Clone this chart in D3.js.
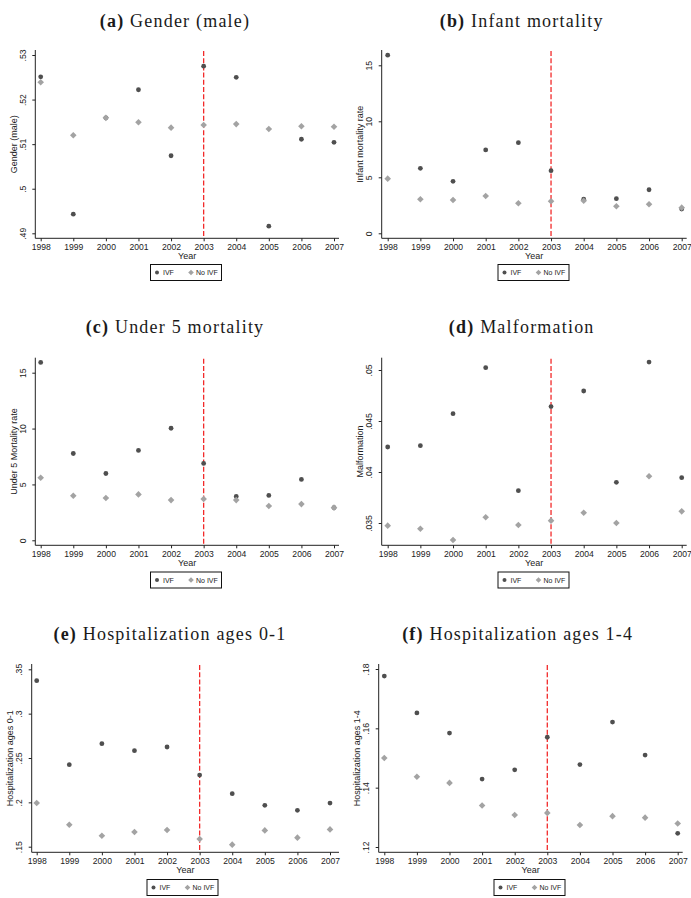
<!DOCTYPE html>
<html>
<head>
<meta charset="utf-8">
<script src="https://cdn.jsdelivr.net/npm/d3@7"></script>
<style>
  html, body { margin: 0; padding: 0; background: #fff; }
  svg { display: block; }
</style>
</head>
<body>
<svg id="chart" width="691" height="898"></svg>
<script>
// ---------------- DATA ----------------
const years = [1998, 1999, 2000, 2001, 2002, 2003, 2004, 2005, 2006, 2007];
const cutoffYear = 2003;
const seriesNames = ["IVF", "No IVF"];

const titlesLetter = ["(a)", "(b)", "(c)", "(d)", "(e)", "(f)"];
const titlesText = ["Gender (male)", "Infant mortality", "Under 5 mortality", "Malformation", "Hospitalization ages 0-1", "Hospitalization ages 1-4"];
const yAxisTitles = ["Gender (male)", "Infant mortality rate", "Under 5 Mortality rate", "Malformation", "Hospitalization ages 0-1", "Hospitalization ages 1-4"];

const genderIVF   = [0.5251, 0.4943, 0.5159, 0.5222, 0.5074, 0.5275, 0.5250, 0.4916, 0.5111, 0.5104];
const genderNoIVF = [0.5239, 0.5120, 0.5159, 0.5149, 0.5137, 0.5143, 0.5145, 0.5134, 0.5140, 0.5139];
const genderTicks = [0.49, 0.50, 0.51, 0.52, 0.53];

const infantIVF   = [15.90, 5.80, 4.64, 7.44, 8.09, 5.59, 3.04, 3.09, 3.89, 2.17];
const infantNoIVF = [4.88, 3.04, 2.97, 3.33, 2.68, 2.86, 2.90, 2.41, 2.59, 2.29];
const infantTicks = [0, 5, 10, 15];

const under5IVF   = [15.92, 7.77, 5.98, 8.04, 10.03, 6.88, 3.93, 4.02, 5.45, 2.92];
const under5NoIVF = [5.60, 3.99, 3.78, 4.11, 3.60, 3.69, 3.60, 3.07, 3.24, 2.92];
const under5Ticks = [0, 5, 10, 15];

const malfIVF   = [0.04245, 0.04258, 0.04572, 0.05023, 0.03817, 0.04641, 0.04794, 0.03899, 0.05078, 0.03944];
const malfNoIVF = [0.03474, 0.03444, 0.03333, 0.03556, 0.03480, 0.03523, 0.03601, 0.03500, 0.03958, 0.03614];
const malfTicks = [0.035, 0.04, 0.045, 0.05];

const hosp01IVF   = [0.3372, 0.2425, 0.2662, 0.2583, 0.2624, 0.2308, 0.2098, 0.1966, 0.1910, 0.1992];
const hosp01NoIVF = [0.1992, 0.1748, 0.1624, 0.1665, 0.1688, 0.1586, 0.1523, 0.1684, 0.1602, 0.1695];
const hosp01Ticks = [0.15, 0.2, 0.25, 0.3, 0.35];

const hosp14IVF   = [0.1776, 0.1652, 0.1584, 0.1429, 0.1460, 0.1570, 0.1478, 0.1621, 0.1510, 0.1246];
const hosp14NoIVF = [0.1500, 0.1437, 0.1416, 0.1340, 0.1308, 0.1315, 0.1274, 0.1304, 0.1299, 0.1279];
const hosp14Ticks = [0.12, 0.14, 0.16, 0.18];

// ---------------- LAYOUT (positions / styles) ----------------
const panelData = [
  { ivf: genderIVF, no: genderNoIVF, ticks: genderTicks },
  { ivf: infantIVF, no: infantNoIVF, ticks: infantTicks },
  { ivf: under5IVF, no: under5NoIVF, ticks: under5Ticks },
  { ivf: malfIVF,   no: malfNoIVF,   ticks: malfTicks },
  { ivf: hosp01IVF, no: hosp01NoIVF, ticks: hosp01Ticks },
  { ivf: hosp14IVF, no: hosp14NoIVF, ticks: hosp14Ticks }
];

const frames = [
  { L: 35.3,  T: 50,    R: 339,   B: 238.3, x0: 40.7,  x1: 334,   yLo: 233.3, yHi: 55,    titleX: 175,   titleY: 26.5, legX: 150.5, legY: 264.5 },
  { L: 381.7, T: 50,    R: 686.7, B: 238.3, x0: 387.7, x1: 681.7, yLo: 233.3, yHi: 65.3,  titleX: 521.7, titleY: 26.5, legX: 498,   legY: 264.5 },
  { L: 35.3,  T: 357.7, R: 339,   B: 545.3, x0: 40.7,  x1: 334,   yLo: 540.3, yHi: 372.7, titleX: 175,   titleY: 333,  legX: 150.5, legY: 572 },
  { L: 381.7, T: 357.7, R: 686.7, B: 545.3, x0: 387.7, x1: 681.7, yLo: 523,   yHi: 370,   titleX: 521.7, titleY: 333,  legX: 498,   legY: 572 },
  { L: 31.7,  T: 664,   R: 339,   B: 852.3, x0: 36.7,  x1: 330,   yLo: 846.7, yHi: 669.3, titleX: 170,   titleY: 640,  legX: 147,   legY: 879.5 },
  { L: 378.7, T: 664,   R: 682.7, B: 852.3, x0: 384.3, x1: 677.7, yLo: 847,   yHi: 669,   titleX: 517.7, titleY: 640,  legX: 494,   legY: 879.5 }
];

const darkCol = "#4f4f4f";
const lightCol = "#a3a3a3";
const redCol = "#f22a2a";
const sans = "'Liberation Sans', Arial, sans-serif";
const serif = "'Liberation Serif', 'DejaVu Serif', serif";

const svg = d3.select("#chart");
const fmt = v => {
  let s = d3.format("")(+v.toPrecision(6));
  return s.replace(/^0\./, ".").replace(/^-0\./, "-.");
};
const diamond = (r) => `M0,${-r}L${r},0L0,${r}L${-r},0Z`;

panelData.forEach((pd, i) => {
  const f = frames[i];
  const g = svg.append("g");

  const x = d3.scaleLinear().domain([years[0], years[years.length - 1]]).range([f.x0, f.x1]);
  const y = d3.scaleLinear().domain([d3.min(pd.ticks), d3.max(pd.ticks)]).range([f.yLo, f.yHi]);

  // Title
  const t = g.append("text")
    .attr("x", f.titleX).attr("y", f.titleY)
    .attr("text-anchor", "middle")
    .attr("font-family", serif).attr("font-size", 18).attr("fill", "#1a1a1a")
    .attr("letter-spacing", 1.2);
  t.append("tspan").attr("font-weight", "bold").text(titlesLetter[i]);
  t.append("tspan").text(" " + titlesText[i]);

  // Axis lines
  g.append("line").attr("x1", f.L).attr("x2", f.L).attr("y1", f.T).attr("y2", f.B)
    .attr("stroke", "#222").attr("stroke-width", 1);
  g.append("line").attr("x1", f.L).attr("x2", f.R).attr("y1", f.B).attr("y2", f.B)
    .attr("stroke", "#222").attr("stroke-width", 1);

  // X axis
  const xAxis = d3.axisBottom(x).tickValues(years).tickFormat(d3.format("d")).tickSize(3).tickSizeOuter(0);
  const xg = g.append("g").attr("transform", `translate(0,${f.B})`).call(xAxis);
  xg.select(".domain").remove();
  xg.selectAll(".tick line").attr("stroke", "#222");
  xg.selectAll(".tick text").attr("font-family", sans).attr("font-size", 8.6).attr("fill", "#222").attr("dy", 0).attr("y", 11.5);

  // Y axis
  const yAxis = d3.axisLeft(y).tickValues(pd.ticks).tickFormat(fmt).tickSize(3).tickSizeOuter(0);
  const yg = g.append("g").attr("transform", `translate(${f.L},0)`).call(yAxis);
  yg.select(".domain").remove();
  yg.selectAll(".tick line").attr("stroke", "#222");
  yg.selectAll(".tick text")
    .attr("font-family", sans).attr("font-size", 8.6).attr("fill", "#222")
    .attr("x", null).attr("dy", null).attr("text-anchor", "middle")
    .attr("transform", "translate(-9.5,0) rotate(-90)");

  // Axis titles
  g.append("text").attr("x", (f.L + f.R) / 2).attr("y", f.B + 21)
    .attr("text-anchor", "middle").attr("font-family", sans).attr("font-size", 9).attr("fill", "#222")
    .text("Year");
  g.append("text")
    .attr("transform", `translate(${f.L - 18.5},${(f.T + f.B) / 2}) rotate(-90)`)
    .attr("text-anchor", "middle").attr("font-family", sans).attr("font-size", 9).attr("fill", "#222")
    .text(yAxisTitles[i]);

  // Cutoff line
  g.append("line").attr("x1", x(cutoffYear)).attr("x2", x(cutoffYear))
    .attr("y1", f.T + 1).attr("y2", f.B)
    .attr("stroke", redCol).attr("stroke-width", 1.3).attr("stroke-dasharray", "5,2.2");

  // IVF points
  g.selectAll("circle.ivf").data(years.map((yr, k) => ({ yr, v: pd.ivf[k] })))
    .join("circle").attr("class", "ivf")
    .attr("cx", d => x(d.yr)).attr("cy", d => y(d.v)).attr("r", 2.4)
    .attr("fill", darkCol);

  // No IVF points
  g.selectAll("path.noivf").data(years.map((yr, k) => ({ yr, v: pd.no[k] })))
    .join("path").attr("class", "noivf")
    .attr("d", diamond(3.3))
    .attr("transform", d => `translate(${x(d.yr)},${y(d.v)})`)
    .attr("fill", lightCol);

  // Legend
  const lg = g.append("g").attr("transform", `translate(${f.legX},${f.legY})`);
  lg.append("rect").attr("x", 0).attr("y", 0).attr("width", 71).attr("height", 16)
    .attr("fill", "#fff").attr("stroke", "#111").attr("stroke-width", 1);
  lg.append("circle").attr("cx", 6.5).attr("cy", 8).attr("r", 2).attr("fill", darkCol);
  lg.append("text").attr("x", 12.5).attr("y", 10.6).attr("font-family", sans).attr("font-size", 7).attr("fill", "#222").text(seriesNames[0]);
  lg.append("path").attr("d", diamond(2.8)).attr("transform", "translate(40.5,8)").attr("fill", lightCol);
  lg.append("text").attr("x", 45.5).attr("y", 10.6).attr("font-family", sans).attr("font-size", 7).attr("fill", "#222").text(seriesNames[1]);
});
</script>
</body>
</html>
